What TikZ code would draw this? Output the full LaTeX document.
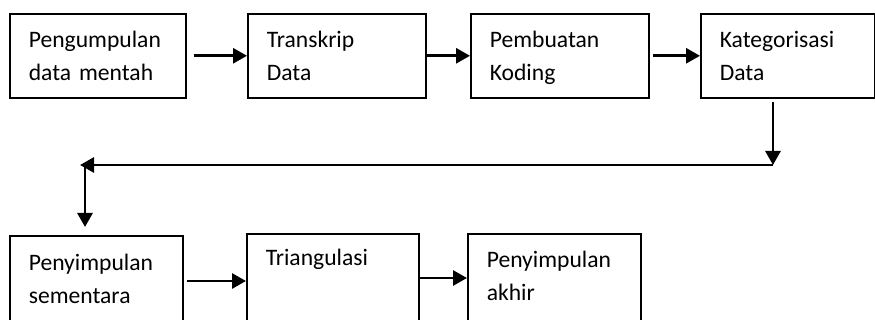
\documentclass[tikz,border=0pt]{standalone}
\usepackage{fontspec}
\setmainfont{Carlito}
\usetikzlibrary{arrows.meta}

\begin{document}
\begin{tikzpicture}[x=0.5pt, y=-0.5pt,
    stepbox/.style={draw, line width=0.8pt, anchor=north west, align=left,
        inner xsep=9.5pt, inner ysep=0pt, text height=17pt,
        font=\fontsize{11.8pt}{16.25pt}\selectfont},
    flow/.style={line width=1.4pt, -{Triangle[length=7pt, width=7.5pt]}}]
    % Page frame, the lower boxes run past the bottom
    \useasboundingbox (0,0) rectangle (875,320);
    \clip (0,0) rectangle (875,320);
    % First row of steps
    \node[stepbox, text width=69pt, text depth=25pt] (kumpul) at (9,13) {Pengumpulan\\data mentah};
    \node[stepbox, text width=70pt, text depth=25pt] (transkrip) at (247,13) {Transkrip\\Data};
    \node[stepbox, text width=70pt, text depth=25pt] (koding) at (470,13) {Pembuatan\\Koding};
    \node[stepbox, text width=68pt, text depth=25pt] (kategori) at (700,13) {Kategorisasi\\Data};
    % Second row of steps
    \node[stepbox, text width=67.5pt, text height=17.5pt, text depth=60pt] (simpul) at (9,235) {Penyimpulan\\sementara};
    \node[stepbox, text width=67pt, text height=16pt, text depth=60pt] (triang) at (246,233) {Triangulasi};
    \node[stepbox, text width=67.5pt, text depth=60pt] (akhir) at (467,233) {Penyimpulan\\akhir};
    % Arrows along the first row
    \draw[flow, shorten <=3.5pt] (kumpul) -- (transkrip);
    \draw[flow] (transkrip) -- (koding);
    \draw[flow, shorten <=1.5pt] (koding) -- (kategori);
    % Return line down to the second row
    \coordinate (turnR) at (773,165);
    \coordinate (turnL) at (80,165);
    \coordinate (dropL) at (85,165);
    \draw[flow, shorten <=1.5pt] (kategori.south -| turnR) -- (turnR);
    \draw[flow] (turnR) -- (turnL);
    \draw[flow, shorten >=4pt] (dropL) -- (dropL |- simpul.north);
    % Arrows along the second row
    \path ([yshift=-23pt]simpul.north east) coordinate (s1);
    \path ([yshift=-22.5pt]triang.north east) coordinate (s2);
    \draw[flow, shorten <=1.5pt] (s1) -- (s1 -| triang.west);
    \draw[flow] (s2) -- (s2 -| akhir.west);
\end{tikzpicture}
\end{document}
